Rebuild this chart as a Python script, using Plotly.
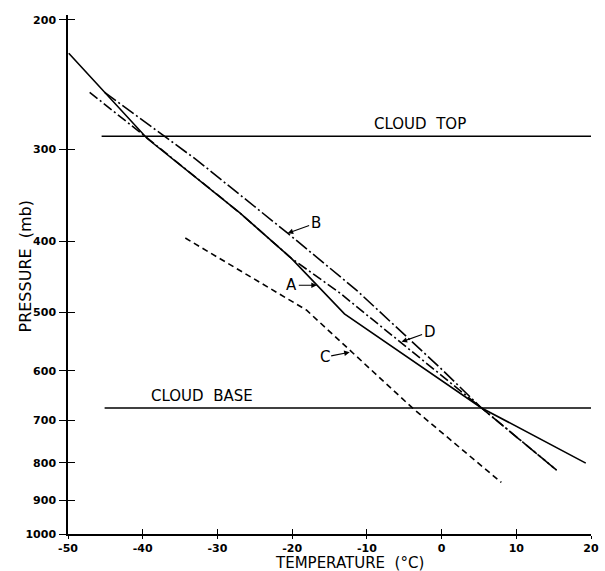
import math
import plotly.graph_objects as go

# ---- data ----
temp_A = [-49.9, -39.4, -27.0, -20.1, -13.0, 5.35, 19.3]
pres_A = [222, 290, 366, 422, 502, 674, 801]

temp_B = [-45.1, -32.8, -20.6, -11.4, -0.3, 5.35, 15.4]
pres_B = [251, 310, 390, 466, 593, 674, 819]

temp_C = [-34.3, -18.1, -3.9, 8.0]
pres_C = [396, 496, 674, 851]

temp_D = [-47.1, -39.5, -27.0, -20.1, -13.65, 5.35, 15.4]
pres_D = [251, 289, 366, 422, 470, 674, 819]

cloud_top_temp = [-45.5, 20]
cloud_top_pres = 288
cloud_base_temp = [-45.1, 20]
cloud_base_pres = 674

x_ticks = [-50, -40, -30, -20, -10, 0, 10, 20]
y_ticks = [200, 300, 400, 500, 600, 700, 800, 900, 1000]

# label arrows: (text, tip temp, tip pressure, ax, ay)
labels = [
    ("B", -20.6, 390, 28, -10),
    ("A", -16.7, 459, -25, 0),
    ("C", -12.3, 566, -25, 5),
    ("D", -5.35, 548, 28, -10),
]

FONT = "DejaVu Sans"
fig = go.Figure()

line_w = 1.6
fig.add_trace(go.Scatter(x=temp_A, y=pres_A, mode="lines",
                         line=dict(color="black", width=line_w)))
fig.add_trace(go.Scatter(x=temp_B, y=pres_B, mode="lines",
                         line=dict(color="black", width=line_w, dash="14px,3px,2px,3px")))
fig.add_trace(go.Scatter(x=temp_C, y=pres_C, mode="lines",
                         line=dict(color="black", width=line_w, dash="6px,4px")))
fig.add_trace(go.Scatter(x=temp_D, y=pres_D, mode="lines",
                         line=dict(color="black", width=line_w, dash="10px,3px,2px,3px")))
fig.add_trace(go.Scatter(x=cloud_top_temp, y=[cloud_top_pres] * 2, mode="lines",
                         line=dict(color="black", width=1.5)))
fig.add_trace(go.Scatter(x=cloud_base_temp, y=[cloud_base_pres] * 2, mode="lines",
                         line=dict(color="black", width=1.5)))
# invisible trace so the overlay axes (inner tick halves) are drawn
fig.add_trace(go.Scatter(x=[0], y=[500], xaxis="x2", yaxis="y2", mode="markers",
                         marker=dict(opacity=0), hoverinfo="skip"))

yrange = [math.log10(1000), math.log10(197)]
xrange = [-50, 20]
tickfont = dict(family=FONT, size=11, color="black", weight="bold")

fig.update_layout(
    width=605, height=571,
    margin=dict(l=68, r=14, t=15, b=37, autoexpand=False),
    paper_bgcolor="white", plot_bgcolor="white",
    showlegend=False,
    xaxis=dict(range=xrange, showgrid=False, zeroline=False, showline=True,
               automargin=False,
               linecolor="black", linewidth=1.5, ticks="outside", ticklen=3,
               tickwidth=1.3, tickcolor="black", tickvals=x_ticks,
               ticktext=[str(v) for v in x_ticks], tickfont=tickfont),
    yaxis=dict(type="log", range=yrange, showgrid=False, zeroline=False,
               automargin=False,
               showline=True, linecolor="black", linewidth=1.5,
               ticks="outside", ticklen=7, tickwidth=1.3, tickcolor="black",
               tickvals=y_ticks, ticktext=[str(v) for v in y_ticks],
               tickfont=tickfont, ticklabelstandoff=1),
    xaxis2=dict(range=xrange, overlaying="x", anchor="y", showgrid=False,
                automargin=False,
                zeroline=False, showline=False, ticks="inside", ticklen=5,
                tickwidth=1.3, tickcolor="black", tickvals=x_ticks,
                showticklabels=False, side="bottom"),
    yaxis2=dict(type="log", range=yrange, overlaying="y", anchor="x",
                automargin=False,
                showgrid=False, zeroline=False, showline=False,
                ticks="inside", ticklen=7, tickwidth=1.3, tickcolor="black",
                tickvals=y_ticks, showticklabels=False, side="left"),
)

txt = dict(family=FONT, size=15, color="black")
for t, tx, ty, ax, ay in labels:
    fig.add_annotation(x=tx, y=math.log10(ty), text=t, showarrow=True,
                       arrowhead=2, arrowsize=1, arrowwidth=1.1,
                       arrowcolor="black", ax=ax, ay=ay, font=txt, standoff=0)

fig.add_annotation(x=-2.9, y=math.log10(cloud_top_pres), text="CLOUD  TOP",
                   showarrow=False, yanchor="bottom", yshift=1, font=txt)
fig.add_annotation(x=-32.0, y=math.log10(cloud_base_pres), text="CLOUD  BASE",
                   showarrow=False, yanchor="bottom", yshift=1, font=txt)

fig.add_annotation(xref="paper", yref="paper", x=0, y=0.5, xshift=-43, yshift=8,
                   xanchor="center", yanchor="middle",
                   text="PRESSURE  (mb)", textangle=-90, showarrow=False,
                   font=dict(family=FONT, size=16, color="black"))
fig.add_annotation(xref="paper", yref="paper", x=0.5, y=0, xshift=20, yshift=-29,
                   xanchor="center", yanchor="middle",
                   text="TEMPERATURE  (°C)", showarrow=False,
                   font=dict(family=FONT, size=15, color="black"))

fig.write_html("out.html", config={"displayModeBar": False},
               post_script="document.body.style.margin='0';document.body.style.padding='0';")
